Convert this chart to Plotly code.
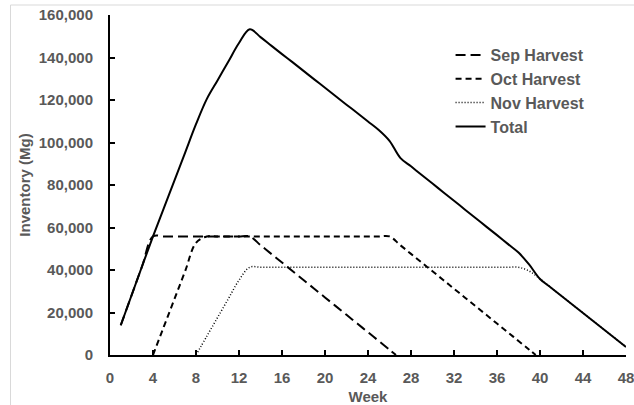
import plotly.graph_objects as go

# ---- data ----
sep_weeks = [1, 2, 3, 4, 5, 6, 7, 8, 9, 10, 11, 12, 13, 14, 15, 16, 17, 18, 19, 20, 21, 22, 23, 24, 25, 26, 26.6]
sep_vals = [14000, 28000, 42000, 55800, 55800, 55800, 55800, 55800, 55800, 55800, 55800, 55800, 55800,
            51700, 47600, 43500, 39400, 35300, 31200, 27100, 23000, 18900, 14800, 10700, 6600, 2500, 0]

oct_weeks = [4, 5, 6, 7, 8, 9, 10, 11, 12, 13, 14, 15, 16, 17, 18, 19, 20, 21, 22, 23, 24, 25, 26,
             27, 28, 29, 30, 31, 32, 33, 34, 35, 36, 37, 38, 39, 39.6]
oct_vals = [0, 13200, 26400, 39600, 52800, 55800, 55800, 55800, 55800, 55800, 55800, 55800, 55800, 55800,
            55800, 55800, 55800, 55800, 55800, 55800, 55800, 55800, 55800,
            51700, 47600, 43500, 39400, 35300, 31200, 27100, 23000, 18900, 14800, 10700, 6600, 2500, 0]

nov_weeks = [8, 9, 10, 11, 12, 13, 14, 15, 16, 17, 18, 19, 20, 21, 22, 23, 24, 25, 26, 27, 28, 29, 30,
             31, 32, 33, 34, 35, 36, 37, 38, 39, 40, 41, 42, 43, 44, 45, 46, 47, 48]
nov_vals = [0, 8800, 17600, 26400, 35200, 41300, 41300, 41300, 41300, 41300, 41300, 41300, 41300, 41300,
            41300, 41300, 41300, 41300, 41300, 41300, 41300, 41300, 41300, 41300, 41300, 41300, 41300,
            41300, 41300, 41300, 41300, 39500, 35800, 31800, 27800, 23800, 19800, 15800, 11800, 7800, 3800]

total_weeks = list(range(1, 49))
total_vals = [14000, 28000, 42000, 55800, 69000, 82200, 95400, 108600, 120400, 129200, 138000, 146800,
              153300, 149600, 145600, 141600, 137700, 133700, 129700, 125800, 121800, 117800, 113900,
              109900, 105900, 100800, 92800, 88800, 84700, 80700, 76600, 72600, 68500, 64500, 60400,
              56400, 52300, 48200, 42500, 35800, 31800, 27800, 23800, 19800, 15800, 11800, 7800, 3800]

series_names = ["Sep Harvest", "Oct Harvest", "Nov Harvest", "Total"]
x_ticks = list(range(0, 49, 4))
y_ticks = list(range(0, 160001, 20000))

FONT = "Liberation Sans, Arial, sans-serif"
GRAY = "#595959"
FS = 15

fig = go.Figure()
styles = [
    dict(dash="10px,5px", width=2),
    dict(dash="6px,4px", width=2),
    dict(dash="1px,2px", width=1.5),
    dict(dash="solid", width=2),
]
data = [(sep_weeks, sep_vals), (oct_weeks, oct_vals), (nov_weeks, nov_vals), (total_weeks, total_vals)]
for i, ((xs, ys), name, st) in enumerate(zip(data, series_names, styles)):
    fig.add_trace(go.Scatter(
        x=xs, y=ys, mode="lines", name=name, legendgroup=f"g{i}",
        line=dict(color="black", width=st["width"], dash=st["dash"], shape="spline", smoothing=1.0),
    ))

tf = dict(family=FONT, size=FS, color=GRAY, weight="bold")
lf = dict(family=FONT, size=16, color=GRAY, weight="bold")
fig.update_layout(
    width=634, height=405,
    margin=dict(l=110, r=8, t=15, b=50),
    paper_bgcolor="white", plot_bgcolor="white",
    font=tf,
    showlegend=True,
    legend=dict(x=0.66, y=0.932, xanchor="left", yanchor="top", bgcolor="rgba(0,0,0,0)",
                font=lf, traceorder="grouped", tracegroupgap=0, itemwidth=30),
    xaxis=dict(range=[0, 48], tickvals=x_ticks, ticktext=[str(v) for v in x_ticks],
               showgrid=False, zeroline=False, showline=True, linecolor="black", linewidth=2,
               ticks="inside", ticklen=5, tickwidth=1.5, tickcolor="black",
               tickfont=tf, ticklabelstandoff=8, automargin=False, ticklabeloverflow="allow",
               title=dict(text="Week", font=tf, standoff=9)),
    yaxis=dict(range=[0, 160000], tickvals=y_ticks, tickformat=",",
               showgrid=False, zeroline=False, showline=True, linecolor="black", linewidth=2,
               ticks="inside", ticklen=5, tickwidth=1.5, tickcolor="black",
               tickfont=tf, ticklabelstandoff=12, automargin=False, ticklabeloverflow="allow",
               title=dict(text="Inventory (Mg)", font=tf, standoff=5)),
    shapes=[
        dict(type="line", xref="paper", yref="paper", x0=-0.1928, x1=1.1, y0=1.0294, y1=1.0294,
             line=dict(color="#d9d9d9", width=1)),
        dict(type="line", xref="paper", yref="paper", x0=-0.1928, x1=-0.1928, y0=1.0294, y1=-0.2,
             line=dict(color="#d9d9d9", width=1)),
    ],
)

fig.write_html("out.html", config={"displayModeBar": False},
               post_script="document.body.style.margin='0';document.body.style.overflow='hidden';")
